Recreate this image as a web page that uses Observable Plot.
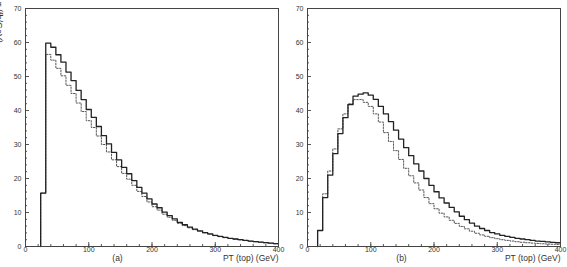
<!DOCTYPE html>
<html>
<head>
<meta charset="utf-8">
<script src="https://cdn.jsdelivr.net/npm/d3@7"></script>
<script src="https://cdn.jsdelivr.net/npm/@observablehq/plot@0.6"></script>
<style>
  body { margin: 0; background: #fff; }
  #wrap { position: relative; width: 567px; height: 267px; overflow: hidden; }
  #wrap svg { position: absolute; top: 0; }
</style>
</head>
<body>
<div id="wrap"></div>
<script>
// ---- Data (bin width 8 GeV; values are bin contents in fb/GeV) ----
const binWidth = 8;
const xMax = 400;

const panelAStart = 24;
const panelASolid = [15.7, 59.8, 58.6, 56.4, 54.2, 51.3, 48.8, 45.9, 43.2, 40.3,
  38.0, 35.3, 32.6, 30.2, 27.7, 25.5, 23.3, 21.4, 19.4, 17.4,
  15.7, 14.0, 12.5, 11.4, 10.1, 9.1, 8.1, 7.1, 6.4, 5.7,
  5.1, 4.6, 4.1, 3.7, 3.3, 3.0, 2.7, 2.4, 2.2, 2.0,
  1.8, 1.6, 1.45, 1.3, 1.15, 1.0, 0.85];
const panelADashed = [15.7, 56.5, 54.8, 52.4, 50.2, 47.4, 45.0, 42.2, 39.7, 37.0,
  35.0, 32.5, 30.0, 27.8, 25.5, 23.5, 21.5, 19.8, 18.0, 16.2,
  14.7, 13.1, 11.7, 10.7, 9.5, 8.6, 7.7, 6.8, 6.15, 5.5,
  4.95, 4.45, 4.0, 3.6, 3.2, 2.9, 2.6, 2.35, 2.15, 1.95,
  1.75, 1.55, 1.4, 1.25, 1.1, 0.95, 0.8];

const panelBStart = 16;
const panelBSolid = [4.7, 14.4, 21.0, 27.3, 33.2, 37.9, 41.7, 44.2, 44.8, 45.2,
  44.5, 43.3, 41.2, 39.0, 36.7, 34.2, 31.6, 29.1, 26.7, 24.3,
  22.2, 20.0, 18.0, 16.1, 14.3, 12.8, 11.5, 10.2, 8.9, 7.9,
  6.9, 6.0, 5.3, 4.7, 4.1, 3.7, 3.3, 3.0, 2.7, 2.4,
  2.2, 2.0, 1.8, 1.6, 1.5, 1.35, 1.2, 1.1];
const panelBDashed = [4.7, 15.5, 22.2, 28.7, 34.6, 39.0, 42.0, 43.2, 43.2, 42.4,
  41.2, 39.0, 36.6, 33.5, 30.9, 28.2, 25.6, 23.0, 20.8, 18.7,
  16.6, 14.4, 12.6, 11.1, 9.8, 8.7, 7.7, 6.8, 5.9, 5.2,
  4.5, 3.9, 3.4, 3.0, 2.6, 2.3, 2.0, 1.8, 1.6, 1.4,
  1.25, 1.1, 1.0, 0.9, 0.8, 0.72, 0.66, 0.6];

const yMajorTicks = [0, 10, 20, 30, 40, 50, 60, 70];
const xMajorTicks = [0, 100, 200, 300, 400];
const panelLabels = ["(a)", "(b)"];
const xTitle = "PT (top) (GeV)";
const yTitle = "σ (fb/GeV)";

// ---- Build step outlines (bin lower edges + closing edge) ----
function outline(start, values) {
  const pts = [{x: start, y: 0}];
  values.forEach((v, i) => pts.push({x: start + i * binWidth, y: v}));
  pts.push({x: start + values.length * binWidth, y: values[values.length - 1]});
  return pts;
}

const font = "'Liberation Sans', Arial, sans-serif";
const ink = "#333";

function panel({start, solid, dashed, label, left, width, marginLeft, marginRight, labelDx}) {
  const solidPts = outline(start, solid);
  const dashedPts = outline(start, dashed);
  const svg = Plot.plot({
    width, height: 267,
    marginLeft, marginRight, marginTop: 8, marginBottom: 21,
    x: {domain: [0, xMax]},
    y: {domain: [0, 70]},
    style: {fontFamily: font, fontSize: "7px", color: ink, background: "transparent", overflow: "visible"},
    marks: [
      Plot.axisY({ticks: d3.range(0, 71, 2), tickSize: -2, tickFormat: () => "", label: null, stroke: "#555"}),
      Plot.axisY({ticks: yMajorTicks, tickSize: -4, tickFormat: () => "", label: null, stroke: "#555"}),
      Plot.axisY({ticks: yMajorTicks, tickSize: 0, tickPadding: 4, label: null, fontSize: 7}),
      Plot.axisX({ticks: d3.range(0, 401, 20), tickSize: -2, tickFormat: () => "", label: null, stroke: "#555"}),
      Plot.axisX({ticks: xMajorTicks, tickSize: -4, tickFormat: () => "", label: null, stroke: "#555"}),
      Plot.axisX({ticks: xMajorTicks, tickSize: 0, tickPadding: 1, label: null, fontSize: 7}),
      Plot.line(dashedPts, {x: "x", y: "y", curve: "step-after", stroke: "#555", strokeWidth: 1, strokeDasharray: "1.5,1.5"}),
      Plot.line(solidPts, {x: "x", y: "y", curve: "step-after", stroke: "#222", strokeWidth: 1.3}),
      Plot.frame({stroke: "#444", strokeWidth: 1}),
      Plot.text([label], {text: d => d, frameAnchor: "bottom-left", dx: labelDx, dy: 14, fontSize: 8.5, textAnchor: "middle", fill: ink}),
      Plot.text([xTitle], {text: d => d, frameAnchor: "bottom-right", dy: 14, fontSize: 8.5, textAnchor: "end", fill: ink})
    ]
  });
  svg.style.left = left + "px";
  return svg;
}

const wrap = document.getElementById("wrap");
const svgA = panel({start: panelAStart, solid: panelASolid, dashed: panelADashed, label: panelLabels[0],
  left: 0, width: 283, marginLeft: 25, marginRight: 5, labelDx: 92});
const svgB = panel({start: panelBStart, solid: panelBSolid, dashed: panelBDashed, label: panelLabels[1],
  left: 283, width: 284, marginLeft: 24, marginRight: 7, labelDx: 94});
wrap.appendChild(svgA);
wrap.appendChild(svgB);

// y-axis title, mostly clipped at the left edge as in the original
const ns = "http://www.w3.org/2000/svg";
const t = document.createElementNS(ns, "text");
t.setAttribute("transform", "translate(-4,1) rotate(90)");
t.setAttribute("text-anchor", "start");
t.setAttribute("font-family", font);
t.setAttribute("font-size", "9");
t.setAttribute("fill", ink);
t.textContent = yTitle;
svgA.appendChild(t);
</script>
</body>
</html>
